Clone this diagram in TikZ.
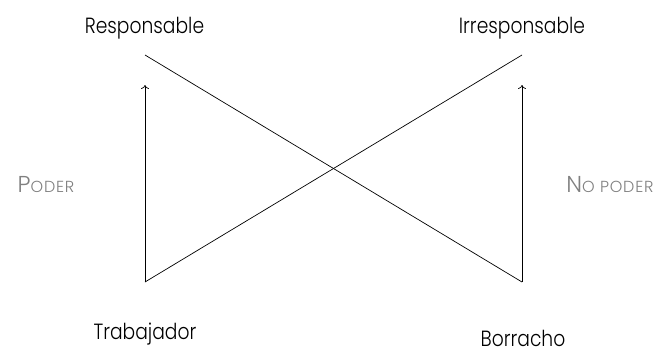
\documentclass[tikz,border=0pt]{standalone}
\usepackage{fontspec}
\setmainfont{Poppins}[UprightFont={* Light}, FakeStretch=0.85]
\newfontfamily\scfont{Poppins}[UprightFont={* Light}, LetterSpace=5]
\usetikzlibrary{positioning}
\usetikzlibrary{calc}
\usetikzlibrary{arrows.meta}

\newcommand{\fakesc}[2]{{\scfont\fontsize{23}{27}\selectfont #1\fontsize{16}{19}\selectfont #2}}

\tikzset{
    word/.style={font=\fontsize{22}{26}\selectfont, inner sep=0pt, anchor=base},
    side/.style={text=gray, inner sep=0pt, anchor=base},
    link/.style={line width=0.7pt},
    up/.style={-{To[length=4pt, width=8pt]}},
}

\begin{document}
\begin{tikzpicture}[x=1pt, y=-1pt]
    \useasboundingbox (0,0) rectangle (672,354);

    % corners
    \coordinate (tl) at (145,55);
    \coordinate (tr) at (522,55);
    \coordinate (bl) at (145,282);
    \coordinate (br) at (522,282);
    \coordinate (al) at (145,85);
    \coordinate (ar) at (522,85);

    \node [word] (resp) at (144.5,33) {Responsable};
    \node [word] (irresp) at (522,33) {Irresponsable};
    \node [word] (trab) at (145,339) {Trabajador};
    \node [word] (borr) at (523,346) {Borracho};

    \node [side] (poder) at (46,192) {\fakesc{P}{ODER}};
    \node [side] (nopoder) at (610,192) {\fakesc{N}{O PODER}};

    \draw [link] (tl) -- (br);
    \draw [link] (bl) -- (tr);
    \draw [link, up] (bl) -- (al);
    \draw [link, up] (br) -- (ar);
\end{tikzpicture}
\end{document}
